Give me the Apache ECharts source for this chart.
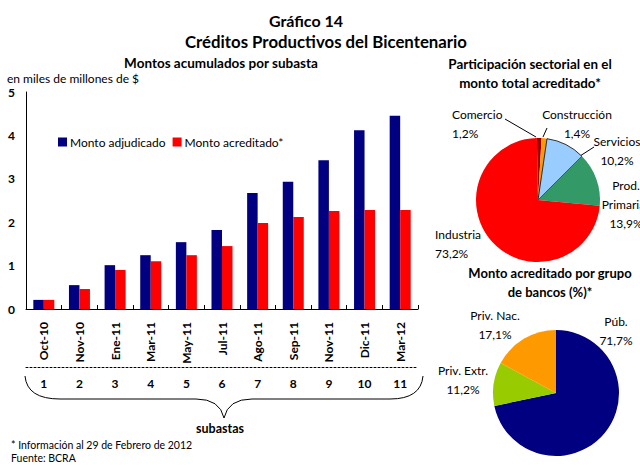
<!DOCTYPE html>
<html><head><meta charset="utf-8">
<script src="https://cdn.jsdelivr.net/npm/echarts@6/dist/echarts.min.js"></script>
<style>html,body{margin:0;padding:0;background:#fff}#c{width:640px;height:465px}</style>
</head><body><div id="c"></div>
<script>
// ---- data ----
const categories = ['Oct-10','Nov-10','Ene-11','Mar-11','May-11','Jul-11','Ago-11','Sep-11','Nov-11','Dic-11','Mar-12'];
const subastas = ['1','2','3','4','5','6','7','8','9','10','11'];
const montoAdjudicado = [0.21,0.55,1.01,1.24,1.54,1.82,2.67,2.93,3.43,4.12,4.45];
const montoAcreditado = [0.21,0.46,0.90,1.10,1.24,1.45,1.98,2.12,2.26,2.28,2.28];
const yTicks = [0,1,2,3,4,5];
const sectores = ['Comercio','Construcción','Servicios','Prod. Primarias','Industria'];
const sectorShares = [1.2,1.4,10.2,13.9,73.2];
const gruposBancos = ['Púb.','Priv. Extr.','Priv. Nac.'];
const bancoShares = [71.7,11.2,17.1];

// ---- styling / layout ----
const FONT = 'Lato';
const sectorColors = ['#990000','#FF9900','#99CCFF','#339966','#FF0000'];
const bancoColors = ['#000080','#99CC00','#FF9900'];
const sectorLabelPos = [[452,124,'left'],[577,124,'center'],[617,150.5,'center'],[626,204,'center'],[435,243.5,'left']];
const bancoLabelPos = [[616,331,'center'],[463,380,'center'],[495,324.5,'center']];
const fmtPct = v => v.toFixed(1).replace('.', ',') + '%';

const chart = echarts.init(document.getElementById('c'), null, {renderer:'svg'});
const txt = (x,y,t,opt) => ({type:'text', x:x, y:y, style:Object.assign({text:t, fontFamily:FONT, fontSize:12, fill:'#000', textAlign:'left', textVerticalAlign:'middle'}, opt||{})});
const line = (x1,y1,x2,y2) => ({type:'line', shape:{x1:x1,y1:y1,x2:x2,y2:y2}, style:{stroke:'#000', lineWidth:1}});
const quad = (x1,y1,cx,cy,x2,y2) => ({type:'bezierCurve', shape:{x1:x1,y1:y1,cpx1:cx,cpy1:cy,x2:x2,y2:y2}, style:{stroke:'#000', lineWidth:1, fill:null}});

chart.setOption({
  backgroundColor:'#fff',
  animation:false,
  textStyle:{fontFamily:FONT},
  grid:{left:26, right:222, top:92, bottom:156, containLabel:false},
  legend:{
    left:53, top:131, itemWidth:9, itemHeight:9, itemGap:7, icon:'rect',
    textStyle:{fontFamily:FONT, fontSize:12, color:'#000', padding:[0,0,0,-2]},
    data:['Monto adjudicado','Monto acreditado*']
  },
  xAxis:[{
    type:'category', data:categories, position:'bottom',
    axisLine:{lineStyle:{color:'#000', width:1}},
    axisTick:{show:true, inside:true, length:4, lineStyle:{color:'#000'}},
    axisLabel:{rotate:90, margin:13, fontFamily:FONT, fontSize:12, fontWeight:'bold', color:'#000'}
  },{
    type:'category', data:subastas, position:'bottom', offset:58,
    axisLine:{lineStyle:{color:'#000', width:1, type:[2,2]}},
    axisTick:{show:false},
    axisLabel:{margin:10, fontFamily:FONT, fontSize:12, fontWeight:'bold', color:'#000'}
  }],
  yAxis:{
    type:'value', min:yTicks[0], max:yTicks[yTicks.length-1], interval:1,
    axisLine:{show:true, lineStyle:{color:'#000'}},
    axisTick:{show:false},
    splitLine:{show:false},
    axisLabel:{margin:11, fontFamily:FONT, fontSize:12, fontWeight:'bold', color:'#000'}
  },
  series:[
    {name:'Monto adjudicado', type:'bar', data:montoAdjudicado, barWidth:10.5, barGap:'0%', itemStyle:{color:'#000080'}},
    {name:'Monto acreditado*', type:'bar', data:montoAcreditado, barWidth:10.5, barGap:'0%', itemStyle:{color:'#FF0000'}},
    {
      type:'pie', center:[538,200], radius:62, startAngle:91, clockwise:true,
      avoidLabelOverlap:false,
      data:sectores.map((n,i)=>({name:n, value:sectorShares[i],
        itemStyle:{color:sectorColors[i], borderColor: i===2 ? '#000' : sectorColors[i], borderWidth: i===2 ? 0.8 : 0}})),
      label:{show:true, position:'outside', fontFamily:FONT, fontSize:12, color:'#000', lineHeight:19,
        formatter:p => p.name.replace('Prod. ','Prod.\n') + '\n' + fmtPct(p.value)},
      labelLine:{show:false},
      labelLayout:p => { const q = sectorLabelPos[p.dataIndex]; return {x:q[0], y:q[1], align:q[2], verticalAlign:'middle'}; },
      emphasis:{disabled:true}
    },
    {
      type:'pie', center:[556,393], radius:63, startAngle:90, clockwise:true,
      avoidLabelOverlap:false,
      data:gruposBancos.map((n,i)=>({name:n, value:bancoShares[i], itemStyle:{color:bancoColors[i]}})),
      label:{show:true, position:'outside', fontFamily:FONT, fontSize:12, color:'#000', lineHeight:19,
        formatter:p => p.name + '\n' + fmtPct(p.value)},
      labelLine:{show:false},
      labelLayout:p => { const q = bancoLabelPos[p.dataIndex]; return {x:q[0], y:q[1], align:q[2], verticalAlign:'middle'}; },
      emphasis:{disabled:true}
    }
  ],
  graphic:[
    txt(306,20,'Gráfico 14',{fontSize:16, fontWeight:'bold', textAlign:'center'}),
    txt(326,41,'Créditos Productivos del Bicentenario',{fontSize:16.8, fontWeight:'bold', textAlign:'center'}),
    txt(221,63,'Montos acumulados por subasta',{fontSize:13.5, fontWeight:'bold', textAlign:'center'}),
    txt(7,78,'en miles de millones de $',{fontSize:12}),
    txt(530,64,'Participación sectorial en el',{fontSize:13.4, fontWeight:'bold', textAlign:'center'}),
    txt(530,83,'monto total acreditado*',{fontSize:13.4, fontWeight:'bold', textAlign:'center'}),
    txt(550,273,'Monto acreditado por grupo',{fontSize:13, fontWeight:'bold', textAlign:'center'}),
    txt(550,292,'de bancos (%)*',{fontSize:13, fontWeight:'bold', textAlign:'center'}),
    txt(220,428,'subastas',{fontSize:12.5, fontWeight:'bold', textAlign:'center'}),
    txt(11,445,'* Información al 29 de Febrero de 2012',{fontSize:10.5}),
    txt(11,458,'Fuente: BCRA',{fontSize:10.5}),
    line(505,119,536,137),
    line(547,128,543,137),
    line(594,147,580,156),
    quad(25,376,27,399,60,399),
    line(60,399,196,399),
    quad(196,399,220,399,224,418),
    quad(224,418,228,399,252,399),
    line(252,399,390,399),
    quad(390,399,421,399,423,376)
  ]
});
</script></body></html>
